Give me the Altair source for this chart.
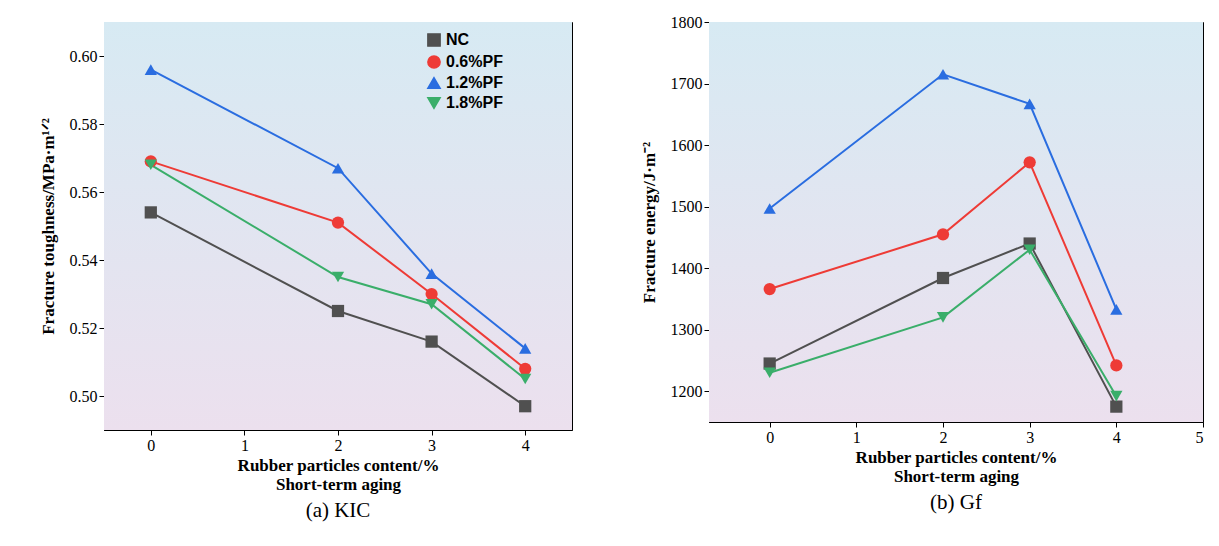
import altair as alt
import pandas as pd

x_vals = [0, 2, 3, 4]
series = ["NC", "0.6%PF", "1.2%PF", "1.8%PF"]
k_nc = [0.554, 0.525, 0.516, 0.497]
k_06 = [0.569, 0.551, 0.530, 0.508]
k_12 = [0.596, 0.567, 0.536, 0.514]
k_18 = [0.568, 0.535, 0.527, 0.505]
g_nc = [1245, 1384, 1440, 1175]
g_06 = [1366, 1455, 1572, 1242]
g_12 = [1497, 1715, 1667, 1333]
g_18 = [1230, 1320, 1430, 1192]

colors = ["#505050", "#ee3b36", "#2a6de0", "#3aae6a"]
shapes = ["square", "circle", "triangle-up", "triangle-down"]
FONT = "Liberation Serif"

def frame(vals):
    rows = []
    for s, v in zip(series, vals):
        for x, y in zip(x_vals, v):
            rows.append({"x": x, "y": y, "s": s})
    return pd.DataFrame(rows)

def panel(df, w, h, xdom, xticks, ydom, yticks, ytitle, caption, fmt, lx):
    bg = alt.Chart(pd.DataFrame({"a": [0]})).mark_rect(
        fill=alt.Gradient(gradient="linear", x1=0, y1=0, x2=0, y2=1,
                          stops=[alt.GradientStop(color="#d7eaf3", offset=0),
                                 alt.GradientStop(color="#ece0ee", offset=1)])
    ).encode(x=alt.value(0), x2=alt.value(w), y=alt.value(0), y2=alt.value(h))
    xe = alt.X("x:Q", scale=alt.Scale(domain=xdom, nice=False),
               axis=alt.Axis(values=xticks, format="d", grid=False,
                             title=["Rubber particles content/%", "Short-term aging"]))
    ye = alt.Y("y:Q", scale=alt.Scale(domain=ydom, nice=False, zero=False),
               axis=alt.Axis(values=yticks, format=fmt, grid=False, title=ytitle, titlePadding=12))
    col = alt.Color("s:N", scale=alt.Scale(domain=series, range=colors),
                    legend=alt.Legend(title=None, orient="none", legendX=lx, legendY=10,
                                      labelFont="Liberation Sans", labelFontSize=16,
                                      labelFontWeight="bold", symbolSize=150))
    sh = alt.Shape("s:N", scale=alt.Scale(domain=series, range=shapes), legend=None)
    base = alt.Chart(df)
    lines = base.mark_line(strokeWidth=2).encode(x=xe, y=ye, color=col, detail="s:N")
    pts = base.mark_point(filled=True, size=150, opacity=1).encode(x=xe, y=ye, color=col, shape=sh)
    return alt.layer(bg, lines, pts).properties(
        width=w, height=h,
        title=alt.TitleParams(caption, orient="bottom", font=FONT, fontSize=21,
                              fontWeight="normal", offset=8))

left = panel(frame([k_nc, k_06, k_12, k_18]), 468, 408, [-0.5, 4.5], [0, 1, 2, 3, 4],
             [0.49, 0.61], [0.50, 0.52, 0.54, 0.56, 0.58, 0.60],
             "Fracture toughness/MPa·m¹ᐟ²", "(a) KIC", ".2f", 322)
right = panel(frame([g_nc, g_06, g_12, g_18]), 494, 400, [-0.7, 5], [0, 1, 2, 3, 4, 5],
              [1150, 1800], [1200, 1300, 1400, 1500, 1600, 1700, 1800],
              "Fracture energy/J·m⁻²", "(b) Gf", "d", 355)

chart = alt.hconcat(left, right, spacing=66).properties(
    padding={"left": 30, "top": 5, "right": 5, "bottom": 5}
).configure_axis(
    labelFont=FONT, labelFontSize=16, titleFont=FONT, titleFontSize=17,
    titleFontWeight="bold", labelColor="black", titleColor="black",
    domainColor="black", tickColor="black", tickSize=5
).configure_view(stroke="black", strokeWidth=1)

chart.save("out.html", embed_options={"renderer": "svg", "actions": False})
